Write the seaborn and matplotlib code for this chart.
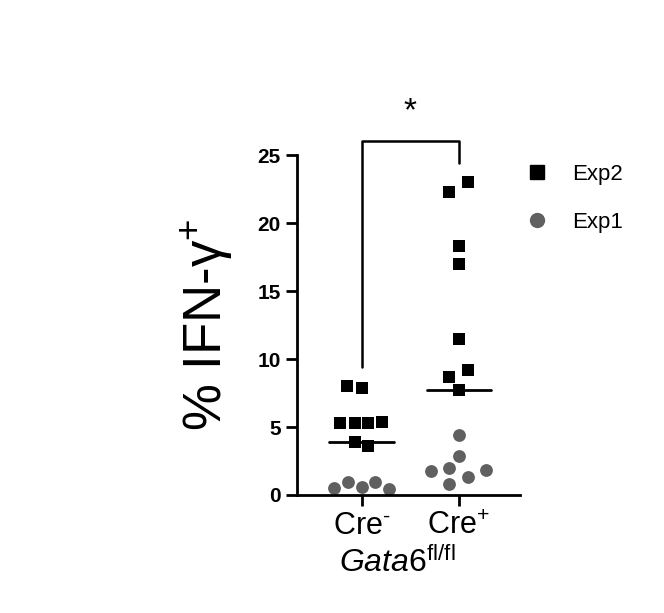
import matplotlib
matplotlib.use("Agg")
import matplotlib.pyplot as plt
import seaborn as sns
import pandas as pd
from matplotlib.lines import Line2D

sns.set_style("ticks")
plt.rcParams['font.family'] = ['Liberation Sans', 'DejaVu Sans']
plt.rcParams['mathtext.fontset'] = 'custom'
plt.rcParams['mathtext.rm'] = 'Liberation Sans'
plt.rcParams['mathtext.it'] = 'Liberation Sans:italic'
plt.rcParams['text.color'] = 'black'
plt.rcParams['axes.labelcolor'] = 'black'
plt.rcParams['xtick.color'] = 'black'
plt.rcParams['ytick.color'] = 'black'
plt.rcParams['axes.edgecolor'] = 'black'

groups = ["Cre-", "Cre+"]
creneg_exp2 = [8.0, 7.85, 5.27, 5.27, 5.27, 5.4, 3.92, 3.6]
creneg_exp2_off = [-0.147, 0.0, -0.216, -0.069, 0.069, 0.206, -0.069, 0.069]
creneg_exp1 = [0.49, 0.98, 0.56, 0.93, 0.42]
creneg_exp1_off = [-0.286, -0.141, 0.0, 0.137, 0.281]
crepos_exp2 = [23.0, 22.3, 18.3, 17.0, 11.5, 9.2, 8.65, 7.7]
crepos_exp2_off = [0.093, -0.096, 0.0, 0.0, 0.0, 0.093, -0.096, 0.0]
crepos_exp1 = [4.4, 2.9, 1.77, 2.0, 1.35, 1.84, 0.79]
crepos_exp1_off = [0.0, 0.0, -0.286, -0.096, 0.093, 0.275, -0.096]
medians = [3.9, 7.7]

rows = []
for gi, (vals, offs) in enumerate([(creneg_exp2, creneg_exp2_off), (crepos_exp2, crepos_exp2_off)]):
    for v, o in zip(vals, offs):
        rows.append(dict(x=gi + o, y=v, exp="Exp2"))
for gi, (vals, offs) in enumerate([(creneg_exp1, creneg_exp1_off), (crepos_exp1, crepos_exp1_off)]):
    for v, o in zip(vals, offs):
        rows.append(dict(x=gi + o, y=v, exp="Exp1"))
df = pd.DataFrame(rows)

fig = plt.figure(figsize=(6.64, 6.13), dpi=100)
ax = fig.add_axes([0.447, 0.1925, 0.336, 0.5545])
sns.scatterplot(data=df[df.exp == "Exp2"], x="x", y="y", marker="s", s=75, color="black",
                edgecolor="black", linewidth=0, ax=ax, legend=False, clip_on=False)
sns.scatterplot(data=df[df.exp == "Exp1"], x="x", y="y", marker="o", s=85, color="#606060",
                edgecolor="#606060", linewidth=0, ax=ax, legend=False, clip_on=False)
for i, m in enumerate(medians):
    ax.plot([i - 0.33, i + 0.33], [m, m], color="black", lw=2)

ax.set_xlim(-0.665, 1.628)
ax.set_ylim(0, 25)
ax.set_yticks([0, 5, 10, 15, 20, 25])
ax.set_xticks([0, 1])
ax.set_xticklabels(["Cre$^{\u2010}$", "Cre$^{+}$"], fontsize=22)
ax.tick_params(axis='y', labelsize=15, width=2, length=8)
ax.tick_params(axis='x', width=2, length=8)
for t in ax.get_yticklabels():
    t.set_fontweight('bold')
for s in ["top", "right"]:
    ax.spines[s].set_visible(False)
ax.spines["left"].set_linewidth(2)
ax.spines["bottom"].set_linewidth(2)
ax.set_xlabel("")
ax.set_ylabel("% IFN-γ$^{+}$", fontsize=38, labelpad=16)
ax.text(0.45, -0.2, "$\\it{Gata6}$$^{\\rm fl/fl}$", transform=ax.transAxes, ha="center",
        va="center", fontsize=23)

# significance bracket
ax.plot([0, 0, 1, 1], [9.4, 26.0, 26.0, 24.4], color="black", lw=1.8, clip_on=False)
ax.text(0.5, 28.2, "*", ha="center", va="center", fontsize=24)

handles = [Line2D([], [], marker="s", color="black", ls="", markersize=10, label="Exp2"),
           Line2D([], [], marker="o", color="#606060", ls="", markersize=10, label="Exp1")]
fig.legend(handles=handles, loc="upper left", bbox_to_anchor=(0.745, 0.765), frameon=False,
           fontsize=16, labelspacing=1.2, handletextpad=0.6)
fig.savefig("out.png", dpi=100)
